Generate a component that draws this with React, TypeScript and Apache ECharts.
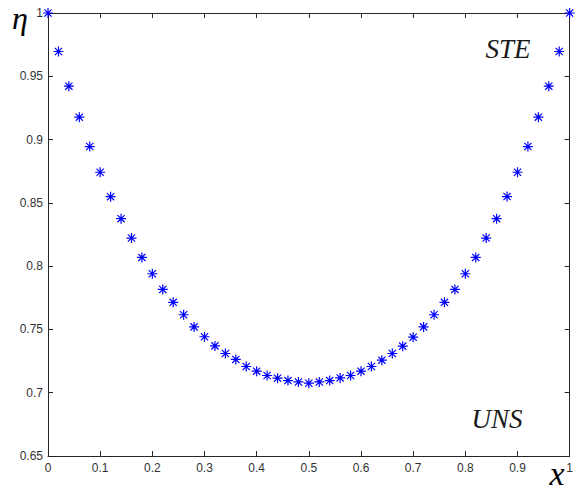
import React, { useEffect, useRef } from "react";
import * as echarts from "echarts";

const xValues = [
  0, 0.02, 0.04, 0.06, 0.08, 0.1, 0.12, 0.14, 0.16, 0.18, 0.2, 0.22, 0.24, 0.26, 0.28, 0.3,
  0.32, 0.34, 0.36, 0.38, 0.4, 0.42, 0.44, 0.46, 0.48, 0.5, 0.52, 0.54, 0.56, 0.58, 0.6,
  0.62, 0.64, 0.66, 0.68, 0.7, 0.72, 0.74, 0.76, 0.78, 0.8, 0.82, 0.84, 0.86, 0.88, 0.9,
  0.92, 0.94, 0.96, 0.98, 1,
];

const etaValues = [
  1.0, 0.9696, 0.9422, 0.9177, 0.8945, 0.8742, 0.8549, 0.8375, 0.8222, 0.8069, 0.794,
  0.7816, 0.7714, 0.7616, 0.752, 0.7442, 0.737, 0.731, 0.7263, 0.7207, 0.717, 0.7136,
  0.7115, 0.7096, 0.7085, 0.7075, 0.7085, 0.7096, 0.7117, 0.7136, 0.717, 0.7207, 0.7257,
  0.731, 0.7368, 0.7439, 0.752, 0.7616, 0.7714, 0.7816, 0.794, 0.8069, 0.8222, 0.8375,
  0.855, 0.8742, 0.8945, 0.9177, 0.9422, 0.9696, 1.0,
];

const xTickInterval = 0.1;
const yTickInterval = 0.05;
const xMin = 0;
const xMax = 1;
const yMin = 0.65;
const yMax = 1;

const AXIS_COLOR = "#262626";
const LABEL_COLOR = "#333333";
const SERIF = "'Liberation Serif', 'DejaVu Serif', serif";

export default function App() {
  const ref = useRef<HTMLDivElement>(null);

  useEffect(() => {
    if (!ref.current) return;
    const chart = echarts.init(ref.current, undefined, { renderer: "svg" });

    const axisCommon = {
      type: "value" as const,
      axisLine: { show: true, onZero: false, lineStyle: { color: AXIS_COLOR, width: 1 } },
      axisTick: { show: true, inside: true, length: 5, lineStyle: { color: AXIS_COLOR, width: 1 } },
      splitLine: { show: false },
    };

    const option = {
      animation: false,
      backgroundColor: "#ffffff",
      grid: { left: 48, right: 3, top: 13, bottom: 38, containLabel: false },
      xAxis: [
        {
          ...axisCommon,
          position: "bottom",
          min: xMin,
          max: xMax,
          interval: xTickInterval,
          axisLabel: {
            show: true,
            margin: 6,
            fontSize: 12,
            color: LABEL_COLOR,
            fontFamily: "'Liberation Sans', Arial, sans-serif",
          },
        },
        {
          ...axisCommon,
          position: "top",
          min: xMin,
          max: xMax,
          interval: xTickInterval,
          axisLabel: { show: false },
        },
      ],
      yAxis: [
        {
          ...axisCommon,
          position: "left",
          min: yMin,
          max: yMax,
          interval: yTickInterval,
          axisLabel: {
            show: true,
            margin: 5,
            fontSize: 12,
            color: LABEL_COLOR,
            fontFamily: "'Liberation Sans', Arial, sans-serif",
          },
        },
        {
          ...axisCommon,
          position: "right",
          min: yMin,
          max: yMax,
          interval: yTickInterval,
          axisLabel: { show: false },
        },
      ],
      series: [
        {
          type: "scatter",
          xAxisIndex: 0,
          yAxisIndex: 0,
          data: xValues.map((x, i) => [x, etaValues[i]]),
          symbol:
            "path://M0,-5L0,5M-5,0L5,0M-3.6,-3.6L3.6,3.6M-3.6,3.6L3.6,-3.6",
          symbolSize: 10,
          clip: false,
          itemStyle: {
            color: "#0000ff",
            borderColor: "#0000ff",
            borderWidth: 1.2,
            opacity: 1,
          },
          z: 5,
        },
      ],
      graphic: [
        {
          type: "text",
          x: 20,
          y: 18,
          style: {
            text: "η",
            font: `italic 32px ${SERIF}`,
            fill: "#000000",
            textAlign: "center",
            textVerticalAlign: "middle",
          },
        },
        {
          type: "text",
          x: 557,
          y: 490,
          style: {
            text: "x",
            font: `italic 34px ${SERIF}`,
            fill: "#000000",
            textAlign: "center",
            textVerticalAlign: "bottom",
          },
        },
        {
          type: "text",
          x: 508,
          y: 49,
          style: {
            text: "STE",
            font: `italic 27px ${SERIF}`,
            fill: "#1a1a1a",
            textAlign: "center",
            textVerticalAlign: "middle",
          },
        },
        {
          type: "text",
          x: 497,
          y: 419,
          style: {
            text: "UNS",
            font: `italic 27px ${SERIF}`,
            fill: "#1a1a1a",
            textAlign: "center",
            textVerticalAlign: "middle",
          },
        },
      ],
    };

    chart.setOption(option);
    return () => chart.dispose();
  }, []);

  return (
    <div
      ref={ref}
      style={{ position: "absolute", left: 0, top: 0, width: 576, height: 494 }}
    />
  );
}
